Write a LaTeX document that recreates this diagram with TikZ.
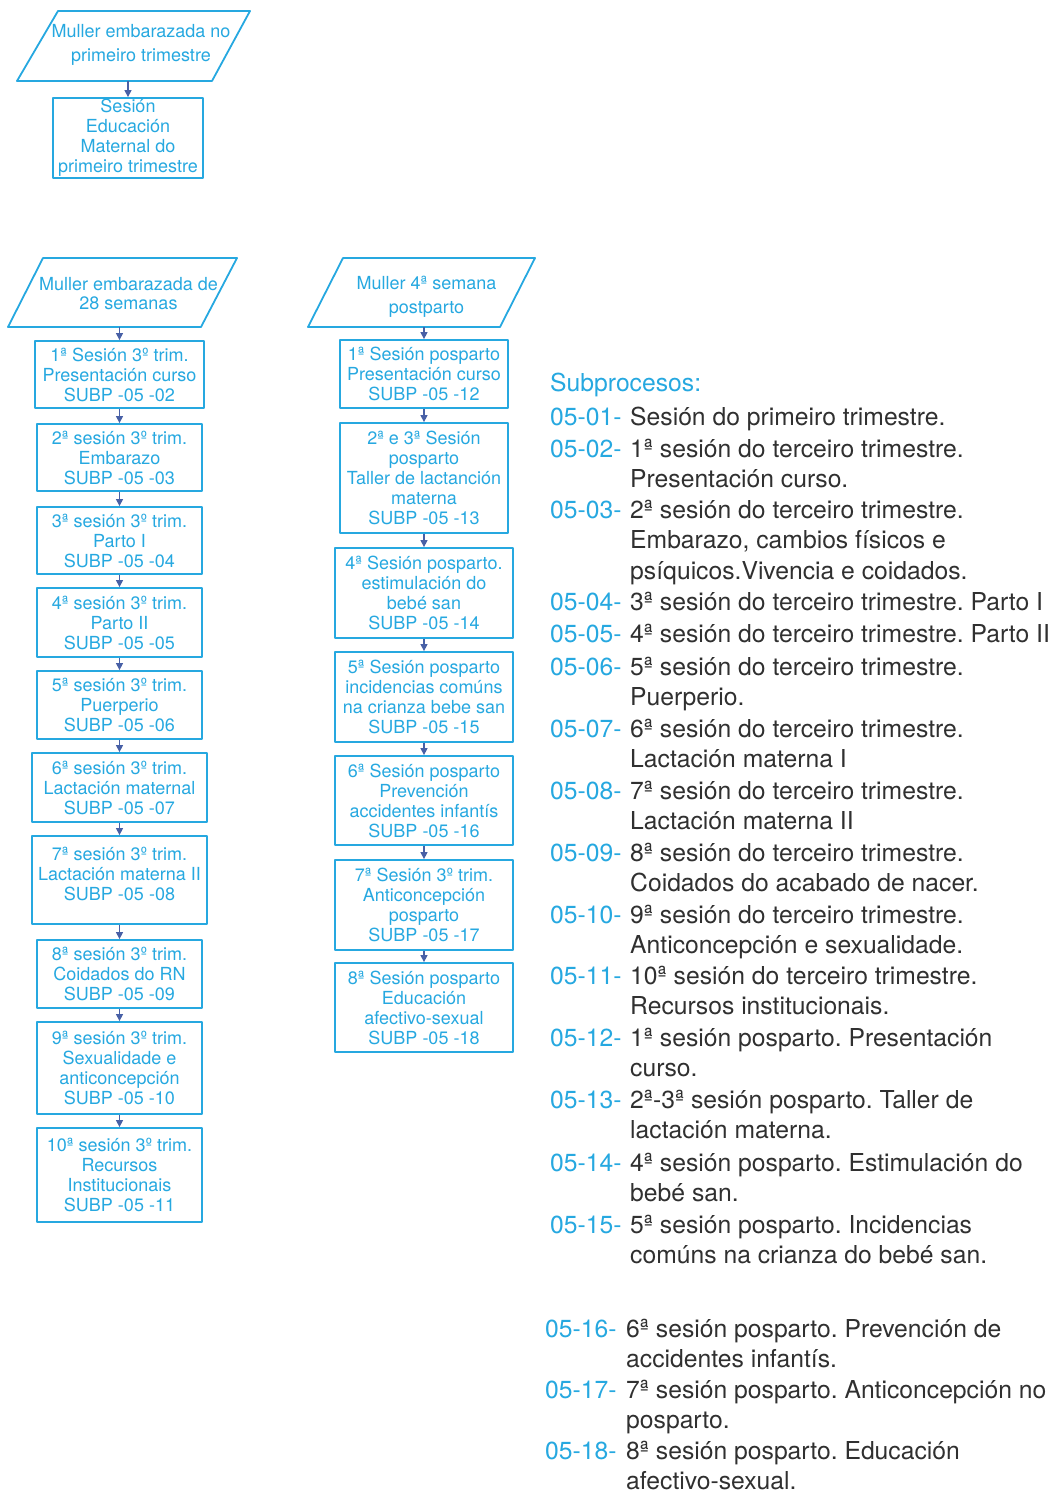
\documentclass[tikz,border=0pt]{standalone}
\usepackage{fontspec}
\setmainfont{TeX Gyre Heros}
\usetikzlibrary{arrows.meta}

\definecolor{subcyan}{RGB}{38,168,224}
\definecolor{flowblue}{RGB}{72,96,166}
\definecolor{descgray}{RGB}{48,48,48}

\begin{document}
\frenchspacing
\begin{tikzpicture}[x=1pt, y=-1pt, line join=round,
    sesion/.style={draw=subcyan, line width=1.8pt, text=subcyan, align=center,
      inner sep=0pt, font=\fontsize{18}{20}\selectfont},
    muller/.style={draw=subcyan, line width=1.8pt},
    mullertxt/.style={text=subcyan, align=center, inner sep=0pt},
    flow/.style={draw=flowblue, line width=1.3pt, -{Triangle[width=7pt, length=7pt]}},
    subnum/.style={anchor=base west, inner sep=0pt, text=subcyan, font=\fontsize{24.7}{30.5}\selectfont},
    subdesc/.style={anchor=base west, inner sep=0pt, text=descgray, font=\fontsize{24.7}{30.5}\selectfont}]
    \path[use as bounding box] (0,0) rectangle (1060,1495);

    % primeiro trimestre
    \draw[muller] (17,81) -- (58,11) -- (250,11) -- (212,81) -- cycle;
    \coordinate (m01) at (128,81);
    \node[mullertxt, font=\fontsize{18}{24}\selectfont] (t01) at (141,45)
      {Muller embarazada no\\primeiro trimestre};
    \node[sesion, minimum width=150pt, minimum height=80pt] (s01) at (128,138)
      {Sesión\\Educación\\Maternal do\\primeiro trimestre};
    \draw[flow] (m01) -- (s01.north);

    % terceiro trimestre
    \draw[muller] (8,327) -- (43,258) -- (237,258) -- (201,327) -- cycle;
    \coordinate (m02) at (119.5,327);
    \node[mullertxt, font=\fontsize{18}{19}\selectfont] (t02) at (128.5,293.5)
      {Muller embarazada de\\28 semanas};
    \node[sesion, minimum width=169pt, minimum height=67pt] (s02) at (119.5,374.5)
      {1ª Sesión 3º trim.\\Presentación curso\\SUBP -05 -02};
    \node[sesion, minimum width=165pt, minimum height=67pt] (s03) at (119.5,457.5)
      {2ª sesión 3º trim.\\Embarazo\\SUBP -05 -03};
    \node[sesion, minimum width=165pt, minimum height=67pt] (s04) at (119.5,540.5)
      {3ª sesión 3º trim.\\Parto I\\SUBP -05 -04};
    \node[sesion, minimum width=165pt, minimum height=69pt] (s05) at (119.5,622.5)
      {4ª sesión 3º trim.\\Parto II\\SUBP -05 -05};
    \node[sesion, minimum width=165pt, minimum height=68pt] (s06) at (119.5,705)
      {5ª sesión 3º trim.\\Puerperio\\SUBP -05 -06};
    \node[sesion, minimum width=175pt, minimum height=69pt] (s07) at (119.5,787.5)
      {6ª sesión 3º trim.\\Lactación maternal\\SUBP -05 -07};
    \node[sesion, minimum width=175pt, minimum height=88pt] (s08) at (119.5,880)
      {7ª sesión 3º trim.\\Lactación materna II\\SUBP -05 -08\\[-8pt]};
    \node[sesion, minimum width=165pt, minimum height=68pt] (s09) at (119.5,974)
      {8ª sesión 3º trim.\\Coidados do RN\\SUBP -05 -09};
    \node[sesion, minimum width=165pt, minimum height=92pt] (s10) at (119.5,1068)
      {9ª sesión 3º trim.\\Sexualidade e\\anticoncepción\\SUBP -05 -10};
    \node[sesion, minimum width=165pt, minimum height=94pt] (s11) at (119.5,1175)
      {10ª sesión 3º trim.\\Recursos\\Institucionais\\SUBP -05 -11};
    \draw[flow] (m02) -- (s02.north);
    \foreach \a/\b in {s02/s03, s03/s04, s04/s05, s05/s06, s06/s07, s07/s08, s08/s09, s09/s10, s10/s11}
      \draw[flow] (\a.south) -- (\b.north);

    % posparto
    \draw[muller] (308,327) -- (343,258) -- (535,258) -- (500,327) -- cycle;
    \coordinate (m03) at (424,327);
    \node[mullertxt, font=\fontsize{18}{24}\selectfont] (t03) at (426.5,297)
      {Muller 4ª semana\\postparto};
    \node[sesion, minimum width=168pt, minimum height=68pt] (s12) at (424,374)
      {1ª Sesión posparto\\Presentación curso\\SUBP -05 -12};
    \node[sesion, minimum width=168pt, minimum height=110pt] (s13) at (424,478)
      {2ª e 3ª Sesión\\posparto\\Taller de lactanción\\materna\\SUBP -05 -13};
    \node[sesion, minimum width=178pt, minimum height=90pt] (s14) at (424,593)
      {4ª Sesión posparto.\\estimulación do\\bebé san\\SUBP -05 -14};
    \node[sesion, minimum width=178pt, minimum height=90pt] (s15) at (424,697)
      {5ª Sesión posparto\\incidencias comúns\\na crianza bebe san\\SUBP -05 -15};
    \node[sesion, minimum width=178pt, minimum height=89pt] (s16) at (424,800.5)
      {6ª Sesión posparto\\Prevención\\accidentes infantís\\SUBP -05 -16};
    \node[sesion, minimum width=178pt, minimum height=90pt] (s17) at (424,905)
      {7ª Sesión 3º trim.\\Anticoncepción\\posparto\\SUBP -05 -17};
    \node[sesion, minimum width=178pt, minimum height=89pt] (s18) at (424,1007.5)
      {8ª Sesión posparto\\Educación\\afectivo-sexual\\SUBP -05 -18};
    \draw[flow] (m03) -- (s12.north);
    \foreach \a/\b in {s12/s13, s13/s14, s14/s15, s15/s16, s16/s17, s17/s18}
      \draw[flow] (\a.south) -- (\b.north);

    % lenda dos subprocesos
    \node[subnum] (subtit) at (550,391) {Subprocesos:};
    \foreach \yb/\num/\txt [count=\i] in {
        425/05-01-/{Sesión do primeiro trimestre.},
        457/05-02-/{1ª sesión do terceiro trimestre.\\Presentación curso.},
        518/05-03-/{2ª sesión do terceiro trimestre.\\Embarazo, cambios físicos e\\psíquicos.Vivencia e coidados.},
        610/05-04-/{3ª sesión do terceiro trimestre. Parto I},
        642/05-05-/{4ª sesión do terceiro trimestre. Parto II},
        675/05-06-/{5ª sesión do terceiro trimestre.\\Puerperio.},
        737/05-07-/{6ª sesión do terceiro trimestre.\\Lactación materna I},
        799/05-08-/{7ª sesión do terceiro trimestre.\\Lactación materna II},
        861/05-09-/{8ª sesión do terceiro trimestre.\\Coidados do acabado de nacer.},
        923/05-10-/{9ª sesión do terceiro trimestre.\\Anticoncepción e sexualidade.},
        984/05-11-/{10ª sesión do terceiro trimestre.\\Recursos institucionais.},
        1046/05-12-/{1ª sesión posparto. Presentación\\curso.},
        1108/05-13-/{2ª-3ª sesión posparto. Taller de\\lactación materna.},
        1171/05-14-/{4ª sesión posparto. Estimulación do\\bebé san.},
        1233/05-15-/{5ª sesión posparto. Incidencias\\comúns na crianza do bebé san.}} {
      \node[subnum] (num\i) at (550,\yb) {\num};
      \node[subdesc] (desc\i) at (630,\yb) {\begin{tabular}[t]{@{}l@{}}\txt\end{tabular}};
    }
    \foreach \yb/\num/\txt [count=\i from 16] in {
        1337/05-16-/{6ª sesión posparto. Prevención de\\accidentes infantís.},
        1398/05-17-/{7ª sesión posparto. Anticoncepción no\\posparto.},
        1459/05-18-/{8ª sesión posparto. Educación\\afectivo-sexual.}} {
      \node[subnum] (num\i) at (545,\yb) {\num};
      \node[subdesc] (desc\i) at (626,\yb) {\begin{tabular}[t]{@{}l@{}}\txt\end{tabular}};
    }
\end{tikzpicture}
\end{document}
